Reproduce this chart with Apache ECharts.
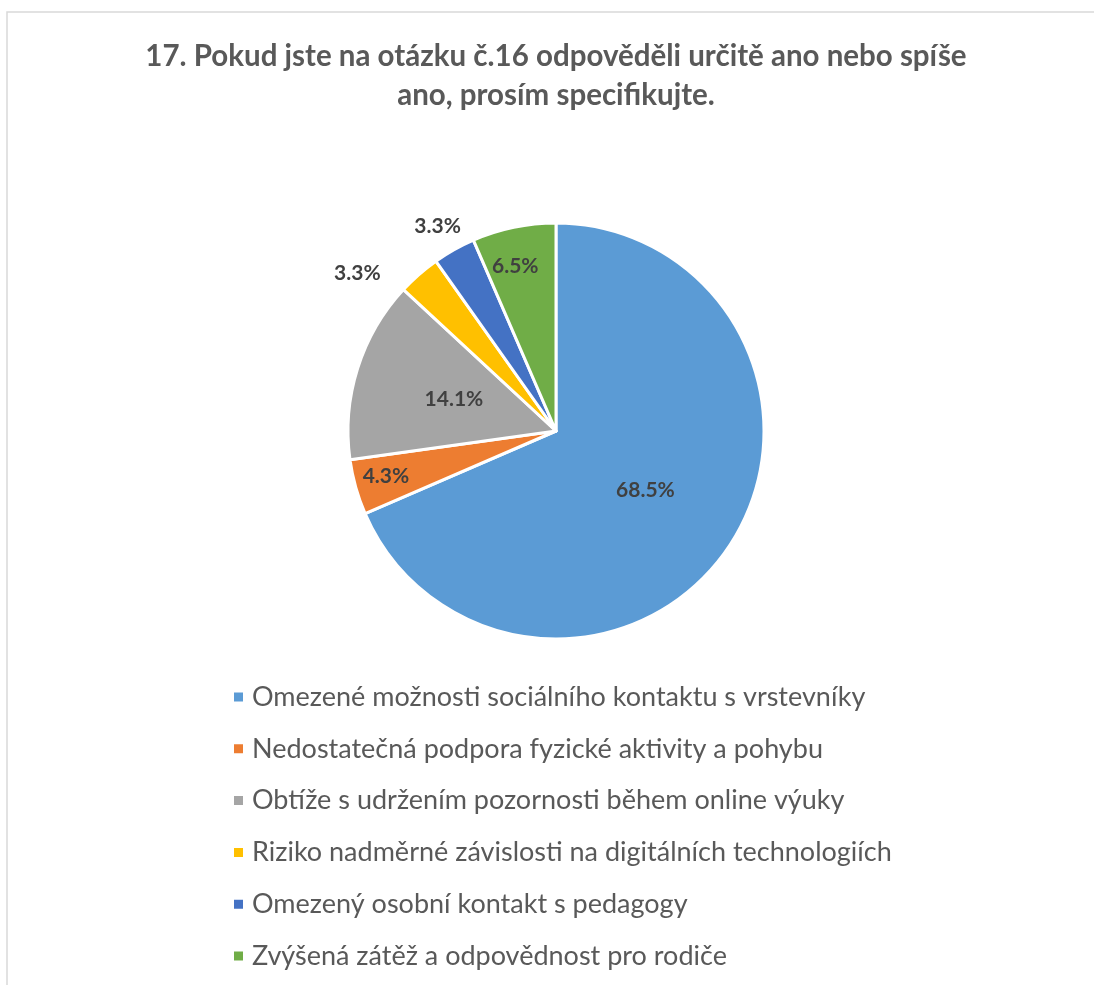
<!DOCTYPE html>
<html>
<head>
<meta charset="utf-8">
<script src="https://cdn.jsdelivr.net/npm/echarts@6/dist/echarts.min.js"></script>
<style>html,body{margin:0;padding:0;background:#fff}#c{width:1094px;height:985px}</style>
</head>
<body>
<div id="c"></div>
<script>
const titleText = "17. Pokud jste na otázku č.16 odpověděli určitě ano nebo spíše\nano, prosím specifikujte.";
const categories = [
  "Omezené možnosti sociálního kontaktu s vrstevníky",
  "Nedostatečná podpora fyzické aktivity a pohybu",
  "Obtíže s udržením pozornosti během online výuky",
  "Riziko nadměrné závislosti na digitálních technologiích",
  "Omezený osobní kontakt s pedagogy",
  "Zvýšená zátěž a odpovědnost pro rodiče"
];
const values = [68.5, 4.3, 14.1, 3.3, 3.3, 6.5];
const colors = ["#5B9BD5", "#ED7D31", "#A5A5A5", "#FFC000", "#4472C4", "#70AD47"];
// label placement: inside labels (with horizontal padding shift / blank lines for vertical shift),
// or outside labels (hidden leader line) for the smallest slices
const labelOutside = [false, false, false, true, true, false];
const outsideLen = [0, 0, 0, 2, 27, 0];
const outsideLen2 = [0, 0, 0, 32, -25, 0];
const labelPadRight = [0, 134, 0, 0, 0, 38];
const blankBefore = [0, 2, 0, 0, 0, 0];
const blankAfter = [0, 0, 0, 0, 0, 6];

const FONT = "Lato, 'Open Sans', sans-serif";
const chart = echarts.init(document.getElementById('c'));
chart.setOption({
  animation: false,
  backgroundColor: '#fff',
  graphic: [{
    type: 'rect', silent: true, z: -1,
    shape: { x: 7, y: 12, width: 1200, height: 1200 },
    style: { fill: 'none', stroke: '#d9d9d9', lineWidth: 1.5 }
  }],
  title: {
    text: titleText,
    left: 551, top: 32, textAlign: 'center',
    textStyle: { fontFamily: FONT, fontSize: 29.5, fontWeight: 'bold', color: '#595959', lineHeight: 39 }
  },
  legend: {
    orient: 'vertical', left: 227, top: 677,
    icon: 'rect', itemWidth: 11, itemHeight: 11, itemGap: 21.8,
    data: categories,
    textStyle: { fontFamily: FONT, fontSize: 27, color: '#595959', lineHeight: 30, padding: [0, 0, 0, 3] }
  },
  series: [{
    type: 'pie',
    center: [556, 431], radius: 208,
    startAngle: 90, clockwise: true,
    avoidLabelOverlap: false,
    itemStyle: { borderColor: '#fff', borderWidth: 3 },
    label: {
      show: true, position: 'inside',
      formatter: p => {
        const i = p.dataIndex;
        return ' \n'.repeat(blankBefore[i]) + p.value.toFixed(1) + '%' + '\n '.repeat(blankAfter[i]);
      },
      fontFamily: FONT, fontSize: 21, fontWeight: 'bold', color: '#404040', lineHeight: 20
    },
    labelLine: { show: false },
    emphasis: { disabled: true },
    data: categories.map((n, i) => {
      const d = { name: n, value: values[i], itemStyle: { color: colors[i] } };
      if (labelOutside[i]) {
        d.label = { position: 'outside', distanceToLabelLine: 5 };
        d.labelLine = { show: false, length: outsideLen[i], length2: outsideLen2[i] };
      } else {
        const lab = { padding: [0, labelPadRight[i], 0, 0] };
        if (blankBefore[i]) lab.lineHeight = 16;
        d.label = lab;
      }
      return d;
    })
  }]
});
</script>
</body>
</html>
